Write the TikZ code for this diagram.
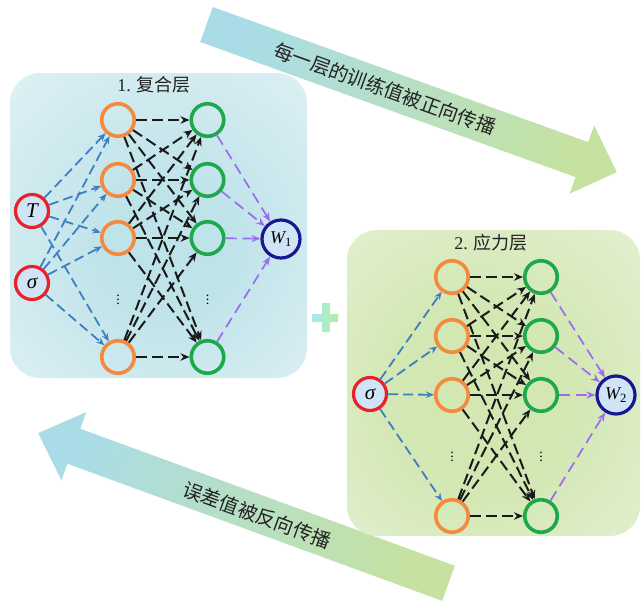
\documentclass[tikz,border=0pt]{standalone}
\usepackage{fontspec}
\setmainfont{Liberation Serif}
\newfontfamily\cjkfont{Noto Sans CJK SC}
\usetikzlibrary{arrows.meta}

\definecolor{inred}{HTML}{E8212B}
\definecolor{hidorange}{HTML}{F58A3F}
\definecolor{outgreen}{HTML}{1FA84B}
\definecolor{resnavy}{HTML}{17178F}
\definecolor{nodefill}{HTML}{CFE4F6}
\definecolor{linkblue}{HTML}{3F7FC1}
\definecolor{linkpurple}{HTML}{9B6BF2}
\definecolor{linkblack}{HTML}{1A1A1A}
\definecolor{arrowblue}{HTML}{A9DCE7}
\definecolor{arrowgreen}{HTML}{C6E2A0}
\definecolor{panelblueA}{HTML}{BEE3E9}
\definecolor{panelblueB}{HTML}{E2F2F6}
\definecolor{panelblueC}{HTML}{F4FAFC}
\definecolor{panelgreenA}{HTML}{D2E7B2}
\definecolor{panelgreenB}{HTML}{E8F3DB}
\definecolor{panelgreenC}{HTML}{F4F9EE}
\definecolor{labelgray}{HTML}{222222}

\pgfdeclareradialshading{leftpanel}{\pgfpoint{2bp}{-4bp}}{%
  color(0bp)=(panelblueA); color(10bp)=(panelblueA);
  color(40bp)=(panelblueB); color(65bp)=(panelblueC)}
\pgfdeclareradialshading{rightpanel}{\pgfpoint{-2bp}{-3bp}}{%
  color(0bp)=(panelgreenA); color(14bp)=(panelgreenA);
  color(45bp)=(panelgreenB); color(70bp)=(panelgreenC)}

\tikzset{
  inputnode/.style={circle, draw=inred, line width=3.2pt, fill=nodefill,
    minimum size=33pt, inner sep=0pt, font=\fontsize{21}{21}\selectfont\itshape},
  hiddennode/.style={circle, draw=hidorange, line width=3.6pt,
    minimum size=32.5pt, inner sep=0pt},
  outnode/.style={circle, draw=outgreen, line width=3.6pt,
    minimum size=32.5pt, inner sep=0pt},
  resultnode/.style={circle, draw=resnavy, line width=3.2pt, fill=nodefill,
    minimum size=38pt, inner sep=0pt, font=\fontsize{18}{18}\selectfont},
  bluelink/.style={draw=linkblue, line width=1.8pt, dash pattern=on 10pt off 5pt,
    -{Stealth[length=8pt,width=6.5pt]}},
  blacklink/.style={draw=linkblack, line width=2pt, dash pattern=on 11pt off 5pt,
    -{Stealth[length=9pt,width=7.5pt]}},
  purplelink/.style={draw=linkpurple, line width=1.7pt, dash pattern=on 11pt off 6pt,
    -{Stealth[length=9pt,width=7pt]}},
  vdotsnode/.style={inner sep=0pt, font=\fontsize{14}{14}\selectfont},
  paneltitle/.style={inner sep=0pt, text=labelgray, font=\fontsize{18}{18}\selectfont},
  arrowtext/.style={inner sep=0pt, text=labelgray, font=\cjkfont\fontsize{19.5}{19.5}\selectfont},
}

\begin{document}
\begin{tikzpicture}[x=1pt, y=-1pt]
\useasboundingbox (0,0) rectangle (642,603);

% large propagation arrows
\shade[left color=arrowblue, right color=arrowgreen, shading angle=70]
  (212.8,7.0) -- (588.2,142.1) -- (594.2,125.5) -- (616.7,172.2)
  -- (569.6,193.7) -- (575.6,177.1) -- (200.2,42.0) -- cycle;
\shade[left color=arrowblue, right color=arrowgreen, shading angle=70]
  (38.1,433.1) -- (86.2,412.2) -- (80.2,428.7) -- (454.9,565.8)
  -- (442.1,600.8) -- (67.4,463.7) -- (61.4,480.2) -- cycle;
\node[arrowtext, rotate=-19.8] (fwdtext) at (385,89) {每一层的训练值被正向传播};
\node[arrowtext, rotate=-20.1] (bwdtext) at (257,515) {误差值被反向传播};

% layer panels
\shade[shading=leftpanel, rounded corners=30pt] (10,73) rectangle (307,378);
\shade[shading=rightpanel, rounded corners=30pt] (347,230) rectangle (640,536);

% plus sign
\shade[left color=arrowblue!80!cyan!75!white, right color=arrowgreen!85!green!80!white]
  (312,314) -- (322,314) -- (322,303) -- (330,303) -- (330,314) -- (338,314)
  -- (338,322) -- (330,322) -- (330,332) -- (322,332) -- (322,322) -- (312,322) -- cycle;

% panel titles
\node[paneltitle] (title1) at (154,85) {1. {\cjkfont 复合层}};
\node[paneltitle] (title2) at (491,243) {2. {\cjkfont 应力层}};

% composite layer network
\node[inputnode] (T) at (32,211) {T};
\node[inputnode] (s1) at (32,283) {σ};
\node[hiddennode] (a1) at (118,120) {};
\node[hiddennode] (a2) at (118,180) {};
\node[hiddennode] (a3) at (118,238) {};
\node[hiddennode] (a4) at (118,357) {};
\node[outnode] (b1) at (207.5,120) {};
\node[outnode] (b2) at (207.5,180) {};
\node[outnode] (b3) at (207.5,238) {};
\node[outnode] (b4) at (207.5,357) {};
\node[resultnode] (W1) at (281,239) {{\itshape W}\textsubscript{1}};
\node[vdotsnode] (adots) at (118,297) {$\vdots$};
\node[vdotsnode] (bdots) at (207.5,297) {$\vdots$};

\foreach \i in {1,...,4} {
  \draw[bluelink] (T) -- (a\i);
  \draw[bluelink] (s1) -- (a\i);
  \foreach \j in {1,...,4} \draw[blacklink] (a\i) -- (b\j);
  \draw[purplelink] (b\i) -- (W1);
}

% stress layer network
\node[inputnode] (s2) at (370,394) {σ};
\node[hiddennode] (c1) at (452,277) {};
\node[hiddennode] (c2) at (452,336) {};
\node[hiddennode] (c3) at (452,395) {};
\node[hiddennode] (c4) at (452,516) {};
\node[outnode] (d1) at (541,277) {};
\node[outnode] (d2) at (541,336) {};
\node[outnode] (d3) at (541,395) {};
\node[outnode] (d4) at (541,516) {};
\node[resultnode] (W2) at (616,395) {{\itshape W}\textsubscript{2}};
\node[vdotsnode] (cdots) at (452,454) {$\vdots$};
\node[vdotsnode] (ddots) at (541,454) {$\vdots$};

\foreach \i in {1,...,4} {
  \draw[bluelink] (s2) -- (c\i);
  \foreach \j in {1,...,4} \draw[blacklink] (c\i) -- (d\j);
  \draw[purplelink] (d\i) -- (W2);
}
\end{tikzpicture}
\end{document}
